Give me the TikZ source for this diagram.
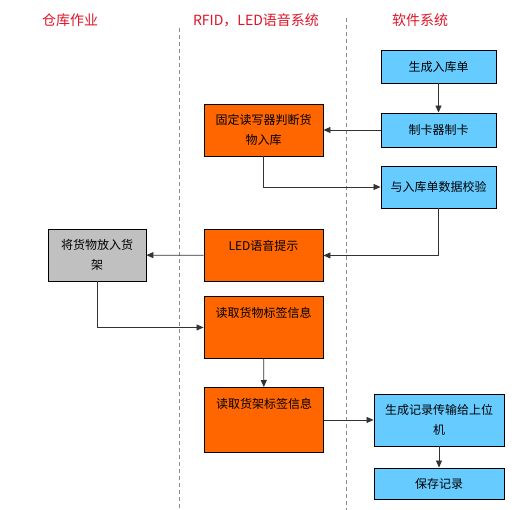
\documentclass[tikz,border=0pt]{standalone}
\usepackage{fontspec}
\setmainfont{Noto Sans CJK SC}
\usetikzlibrary{arrows.meta}
\definecolor{boxorange}{RGB}{255,102,0}
\definecolor{boxblue}{RGB}{102,204,255}
\definecolor{boxgray}{RGB}{192,192,192}
\definecolor{headred}{RGB}{220,20,40}
\begin{document}
\begin{tikzpicture}[x=1pt,y=-1pt,
		box/.style={draw=black,line width=0.9pt,font=\fontsize{12}{20}\selectfont,align=center,inner sep=0pt},
		soft/.style={box,fill=boxblue,minimum width=115pt},
		rfid/.style={box,fill=boxorange,minimum width=119pt},
		toptext/.style={anchor=north,text height=21pt},
		head/.style={text=headred,font=\fontsize{14}{16}\selectfont},
		flow/.style={draw=black!80,line width=0.8pt,-{Triangle[length=7pt,width=6pt]}},
		lane/.style={draw=black!45,dash pattern=on 4pt off 3pt,line width=0.8pt}]
			\useasboundingbox (0,0) rectangle (516,510);
			% lanes
			\draw [lane] (179,28)-- (179,510);
			\draw [lane] (346,18)-- (346,510);
			\node [head] (hstore) at (70,20) {仓库作业};
			\node [head] (hrfid) at (256,20) {RFID，LED语音系统};
			\node [head] (hsoft) at (420,20) {软件系统};
			% boxes
			\node [soft,minimum height=33pt] (gen) at (438.5,66.5) {生成入库单};
			\node [soft,minimum height=34pt] (card) at (438.5,130) {制卡器制卡};
			\node [rfid,minimum height=52pt] (fix) at (263.5,130) {固定读写器判断货\\物入库};
			\node [soft,minimum height=42pt] (check) at (438.5,187) {与入库单数据校验};
			\node [rfid,toptext,text depth=31pt] (led) at (263.5,229) {LED语音提示};
			\node [box,fill=boxgray,minimum width=98pt,minimum height=52pt] (shelf) at (97,255) {将货物放入货\\架};
			\node [rfid,toptext,text depth=41pt] (readgoods) at (263.5,296) {读取货物标签信息};
			\node [rfid,toptext,text depth=44pt] (readshelf) at (264,387) {读取货架标签信息};
			\node [soft,minimum width=130pt,minimum height=52pt] (upload) at (439,420) {生成记录传输给上位\\机};
			\node [soft,minimum width=130pt,minimum height=31pt] (save) at (439,483.5) {保存记录};
			% connectors
			\draw [flow] (gen)-- (card);
			\draw [flow] (card)-- (fix);
			\draw [flow] (fix.south) |- (check.west);
			\draw [flow] (check.south) |- (led.east);
			\draw [flow] (led)-- (shelf);
			\draw [flow] (shelf.south) |- (readgoods.west);
			\draw [flow] (readgoods)-- (readshelf);
			\draw [flow] (readshelf.east)-- (readshelf.east -| upload.west);
			\draw [flow] (upload)-- (save);
		\end{tikzpicture}
\end{document}
